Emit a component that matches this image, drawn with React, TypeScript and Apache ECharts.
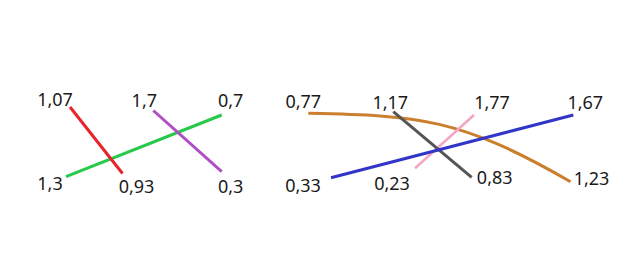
import React, { useEffect, useRef } from "react";
import * as echarts from "echarts";

// Values shown at each end of each segment (start, end)
const redValues = [1.07, 0.93];
const greenValues = [1.3, 0.7];
const purpleValues = [1.7, 0.3];
const orangeValues = [0.77, 1.23];
const grayValues = [1.17, 0.83];
const pinkValues = [0.23, 1.77];
const blueValues = [0.33, 1.67];

// Layout (positions in a 640 x 262 canvas space), listed bottom-to-top drawing order
const layout = [
  { values: greenValues, color: "#27c94b", width: 3, pts: [[66, 176.7], [221.7, 115]], off: [[-16, 6], [9, -15]], ctrl: null },
  { values: redValues, color: "#e8232b", width: 3, pts: [[70, 107], [122.5, 173.5]], off: [[-15, -8], [14, 12]], ctrl: null },
  { values: purpleValues, color: "#b04ec4", width: 3, pts: [[153.3, 110.5], [221.7, 171.7]], off: [[-9, -11], [9, 14]], ctrl: null },
  { values: pinkValues, color: "#f4a6c4", width: 2.5, pts: [[415, 168.3], [474, 115]], off: [[-23, 15], [18, -13]], ctrl: null },
  { values: grayValues, color: "#555555", width: 3, pts: [[393.3, 111.7], [471.7, 177.3]], off: [[-3, -10], [23, 0]], ctrl: null },
  { values: blueValues, color: "#3236c8", width: 3, pts: [[331, 177.7], [573.3, 115]], off: [[-28, 7], [12, -13]], ctrl: null },
  { values: orangeValues, color: "#c97f2e", width: 3, pts: [[308.3, 113.3], [570.5, 181.7]], off: [[-5, -12], [21, -4]], ctrl: [[418.3, 115.5], [460, 117.9]] },
];

const fmt = (v: number) => String(v).replace(".", ",");

export default function App() {
  const ref = useRef<HTMLDivElement>(null);
  useEffect(() => {
    if (!ref.current) return;
    const chart = echarts.init(ref.current, undefined, { renderer: "svg" });
    const series: any[] = [];
    layout.forEach((s) => {
      if (s.ctrl) {
        const ctrl = s.ctrl;
        series.push({
          type: "custom",
          coordinateSystem: "cartesian2d",
          silent: true,
          data: [[s.pts[0][0], s.pts[0][1], s.pts[1][0], s.pts[1][1]]],
          encode: { x: [0, 2], y: [1, 3] },
          renderItem: (_params: any, api: any) => {
            const a = api.coord([api.value(0), api.value(1)]);
            const b = api.coord([api.value(2), api.value(3)]);
            const c1 = api.coord(ctrl[0]);
            const c2 = api.coord(ctrl[1]);
            return {
              type: "bezierCurve",
              shape: { x1: a[0], y1: a[1], x2: b[0], y2: b[1], cpx1: c1[0], cpy1: c1[1], cpx2: c2[0], cpy2: c2[1] },
              style: { stroke: s.color, lineWidth: s.width, fill: "none" },
            };
          },
          z: 2,
        });
      }
      series.push({
        type: "line",
        showSymbol: true,
        showAllSymbol: true,
        symbol: "circle",
        symbolSize: 1,
        itemStyle: { color: "rgba(0,0,0,0)" },
        lineStyle: { color: s.color, width: s.width, cap: "butt", opacity: s.ctrl ? 0 : 1 },
        z: 2,
        data: s.pts.map((p, i) => ({
          value: p,
          label: {
            show: true,
            position: "inside",
            offset: s.off[i],
            formatter: () => fmt(s.values[i]),
            color: "#1a1a1a",
            fontSize: 18,
            fontFamily: "Noto Sans",
          },
        })),
      });
    });
    chart.setOption({
      animation: false,
      grid: { left: 0, right: 0, top: 0, bottom: 0 },
      xAxis: { type: "value", min: 0, max: 640, show: false },
      yAxis: { type: "value", min: 0, max: 262, inverse: true, show: false },
      series,
    });
    return () => chart.dispose();
  }, []);
  return (
    <div
      ref={ref}
      style={{ position: "fixed", left: 0, top: 0, width: 640, height: 262, background: "#fff" }}
    />
  );
}
